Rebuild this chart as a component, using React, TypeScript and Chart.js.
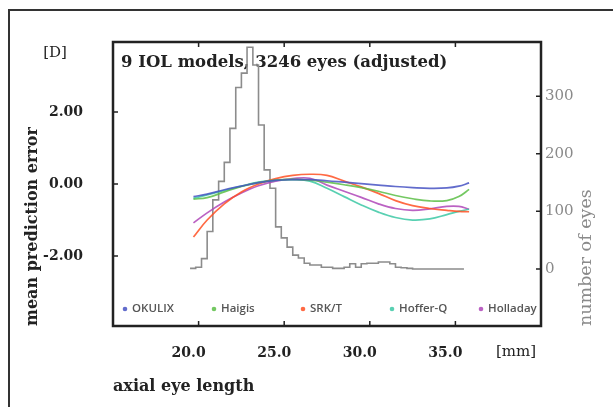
import React, { useEffect, useRef } from 'react';
import { Chart, registerables } from 'chart.js';

Chart.register(...registerables);

const SERIF = '"DejaVu Serif", "Liberation Serif", serif';
const SANS = '"Open Sans", "Noto Sans", sans-serif';

const plotTitle = '9 IOL models, 3246 eyes (adjusted)';
const xTicks = [20, 25, 30, 35];
const yTicks = [-2, 0, 2];
const y2Ticks = [0, 100, 200, 300];

// fitted curves (axial length in mm -> mean prediction error in D)
const curveX = [19.7, 20.5, 21.5, 22.5, 23.5, 24.5, 25.5, 26.5, 27.5, 28.5, 29.5, 30.5, 31.5, 32.5, 33.5, 34.5, 35.2, 35.8];
const okulix = [-0.35, -0.28, -0.16, -0.06, 0.04, 0.1, 0.12, 0.12, 0.09, 0.05, 0.01, -0.03, -0.07, -0.1, -0.12, -0.11, -0.06, 0.03];
const haigis = [-0.42, -0.38, -0.22, -0.07, 0.04, 0.11, 0.13, 0.11, 0.05, -0.02, -0.1, -0.2, -0.32, -0.41, -0.47, -0.46, -0.35, -0.15];
const srkt = [-1.47, -1.0, -0.55, -0.22, 0.0, 0.15, 0.24, 0.27, 0.24, 0.08, -0.08, -0.26, -0.46, -0.6, -0.68, -0.73, -0.76, -0.77];
const hofferQ = [-0.4, -0.3, -0.18, -0.06, 0.05, 0.11, 0.12, 0.08, -0.12, -0.35, -0.58, -0.78, -0.93, -1.0, -0.97, -0.85, -0.76, -0.7];
const holladay = [-1.08, -0.8, -0.5, -0.25, -0.05, 0.08, 0.15, 0.16, -0.03, -0.2, -0.37, -0.55, -0.68, -0.73, -0.69, -0.62, -0.62, -0.7];

const seriesNames = ['OKULIX', 'Haigis', 'SRK/T', 'Hoffer-Q', 'Holladay'];
const seriesColors = ['rgba(70,82,195,0.85)', 'rgba(92,190,70,0.85)', 'rgba(255,80,35,0.85)', 'rgba(60,200,165,0.85)', 'rgba(175,70,185,0.85)'];

// histogram of axial lengths (bin edges in mm, counts per bin)
const histEdges = [19.5, 19.83, 20.17, 20.5, 20.83, 21.17, 21.5, 21.83, 22.17, 22.5, 22.83, 23.17, 23.5, 23.83, 24.17, 24.5, 24.83, 25.17, 25.5, 25.83, 26.17, 26.5, 26.83, 27.17, 27.5, 27.83, 28.17, 28.5, 28.83, 29.17, 29.5, 29.83, 30.17, 30.5, 30.83, 31.17, 31.5, 31.83, 32.17, 32.5, 32.83, 33.17, 33.5, 33.83, 34.17, 34.5, 34.83, 35.17, 35.5];
const histCounts = [1, 3, 18, 65, 120, 152, 185, 244, 315, 340, 385, 354, 250, 172, 140, 73, 54, 38, 24, 19, 10, 7, 7, 3, 3, 1, 1, 3, 9, 3, 9, 10, 10, 12, 12, 9, 3, 2, 1, 0, 0, 0, 0, 0, 0, 0, 0, 0];

const decorPlugin = {
  id: 'decor',
  beforeDraw(chart: any) {
    const { ctx, width, height } = chart;
    ctx.save();
    ctx.fillStyle = '#fff';
    ctx.fillRect(0, 0, width, height);
    ctx.strokeStyle = '#333';
    ctx.lineWidth = 2;
    ctx.beginPath();
    ctx.moveTo(9, height);
    ctx.lineTo(9, 10);
    ctx.lineTo(width, 10);
    ctx.stroke();
    ctx.restore();
  },
  beforeDatasetsDraw(chart: any) {
    const { ctx, chartArea } = chart;
    ctx.save();
    ctx.font = 'bold 16.5px ' + SERIF;
    ctx.fillStyle = '#222';
    ctx.textBaseline = 'middle';
    ctx.textAlign = 'left';
    ctx.fillText(plotTitle, chartArea.left + 8, chartArea.top + 21);
    ctx.restore();
  },
  afterDraw(chart: any) {
    const { ctx, chartArea } = chart;
    const { left, right, top, bottom } = chartArea;
    const sx = chart.scales.x;
    const sy = chart.scales.y;
    const sy2 = chart.scales.y2;
    ctx.save();
    ctx.strokeStyle = '#222';
    ctx.lineWidth = 1.5;
    ctx.beginPath();
    xTicks.forEach((v) => {
      const px = sx.getPixelForValue(v);
      ctx.moveTo(px, bottom);
      ctx.lineTo(px, bottom - 5);
      ctx.moveTo(px, top);
      ctx.lineTo(px, top + 5);
    });
    yTicks.forEach((v) => {
      const py = sy.getPixelForValue(v);
      ctx.moveTo(left, py);
      ctx.lineTo(left + 5, py);
    });
    y2Ticks.forEach((v) => {
      const py = sy2.getPixelForValue(v);
      ctx.moveTo(right, py);
      ctx.lineTo(right - 5, py);
    });
    ctx.stroke();
    ctx.lineWidth = 2.5;
    ctx.strokeRect(left, top, right - left, bottom - top);

    // legend inside plot
    const ly = bottom - 17;
    chart.data.datasets.forEach((ds: any, i: number) => {
      if (ds.isHist) return;
      const lx = left + 12 + i * 89;
      ctx.fillStyle = ds.borderColor;
      ctx.beginPath();
      ctx.arc(lx, ly, 2.3, 0, Math.PI * 2);
      ctx.fill();
      ctx.fillStyle = '#555';
      ctx.font = '600 11.5px ' + SANS;
      ctx.textAlign = 'left';
      ctx.textBaseline = 'middle';
      ctx.fillText(ds.label, lx + 7, ly);
    });

    // units and right axis title
    ctx.fillStyle = '#222';
    ctx.font = '15px ' + SERIF;
    ctx.textAlign = 'center';
    ctx.textBaseline = 'middle';
    ctx.fillText('[D]', 55, 53);
    ctx.fillText('[mm]', 516, 352);

    ctx.save();
    ctx.translate(586, bottom);
    ctx.rotate(-Math.PI / 2);
    ctx.fillStyle = '#8a8a8a';
    ctx.font = '17.5px ' + SERIF;
    ctx.textAlign = 'left';
    ctx.textBaseline = 'middle';
    ctx.fillText('number of eyes', 0, 0);
    ctx.restore();
    ctx.restore();
  },
};

export default function App() {
  const ref = useRef<HTMLCanvasElement | null>(null);
  useEffect(() => {
    if (!ref.current) return;
    const curves = [okulix, haigis, srkt, hofferQ, holladay];
    const datasets: any[] = curves.map((vals, i) => ({
      label: seriesNames[i],
      data: curveX.map((x, j) => ({ x, y: vals[j] })),
      borderColor: seriesColors[i],
      borderWidth: 1.7,
      pointRadius: 0,
      tension: 0.4,
      yAxisID: 'y',
      fill: false,
    }));
    const histData = histEdges.map((x, i) => ({ x, y: i < histCounts.length ? histCounts[i] : histCounts[histCounts.length - 1] }));
    datasets.push({
      label: 'eyes',
      isHist: true,
      data: histData,
      borderColor: '#8c8c8c',
      borderWidth: 1.6,
      pointRadius: 0,
      stepped: 'before',
      yAxisID: 'y2',
      fill: false,
    });
    const chart = new Chart(ref.current, {
      type: 'line',
      data: { datasets },
      options: {
        responsive: false,
        animation: false,
        devicePixelRatio: 1,
        layout: { padding: { top: 42, left: 0, right: 0, bottom: 0 } },
        plugins: { legend: { display: false }, tooltip: { enabled: false }, title: { display: false } },
        scales: {
          x: {
            type: 'linear',
            position: 'bottom',
            min: 15,
            max: 40,
            grid: { display: false, drawTicks: false },
            border: { display: false },
            afterBuildTicks: (s: any) => { s.ticks = xTicks.map((v) => ({ value: v })); },
            ticks: {
              callback: (v: any) => Number(v).toFixed(1),
              font: { family: SERIF, size: 14, weight: 'bold' },
              color: '#222',
              padding: 19,
              labelOffset: -10,
              maxRotation: 0,
              autoSkip: false,
            },
            title: {
              display: true,
              text: 'axial eye length',
              align: 'start',
              font: { family: SERIF, size: 16, weight: 'bold' },
              color: '#222',
              padding: { top: 0, bottom: 11 },
            },
            afterFit: (s: any) => { s.height = 81; },
          },
          y: {
            type: 'linear',
            position: 'left',
            min: -3.94,
            max: 3.94,
            grid: { display: false, drawTicks: false },
            border: { display: false },
            afterBuildTicks: (s: any) => { s.ticks = yTicks.map((v) => ({ value: v })); },
            ticks: {
              callback: (v: any) => Number(v).toFixed(2),
              font: { family: SERIF, size: 14, weight: 'bold' },
              color: '#222',
              padding: 30,
            },
            title: {
              display: true,
              text: 'mean prediction error',
              align: 'start',
              font: { family: SERIF, size: 16, weight: 'bold' },
              color: '#222',
              padding: { top: 23, bottom: 0 },
            },
            afterFit: (s: any) => { s.width = 113; },
          },
          y2: {
            type: 'linear',
            position: 'right',
            min: -99,
            max: 394,
            grid: { display: false, drawTicks: false },
            border: { display: false },
            afterBuildTicks: (s: any) => { s.ticks = y2Ticks.map((v) => ({ value: v })); },
            ticks: {
              callback: (v: any) => String(v),
              font: { family: SERIF, size: 15 },
              color: '#8a8a8a',
              padding: 4,
            },
            afterFit: (s: any) => { s.width = 72; },
          },
        },
      } as any,
      plugins: [decorPlugin as any],
    });
    return () => chart.destroy();
  }, []);
  return (
    <div style={{ position: 'fixed', left: 0, top: 0, width: 613, height: 407, background: '#fff' }}>
      <canvas ref={ref} width={613} height={407} style={{ width: 613, height: 407, display: 'block' }} />
    </div>
  );
}
